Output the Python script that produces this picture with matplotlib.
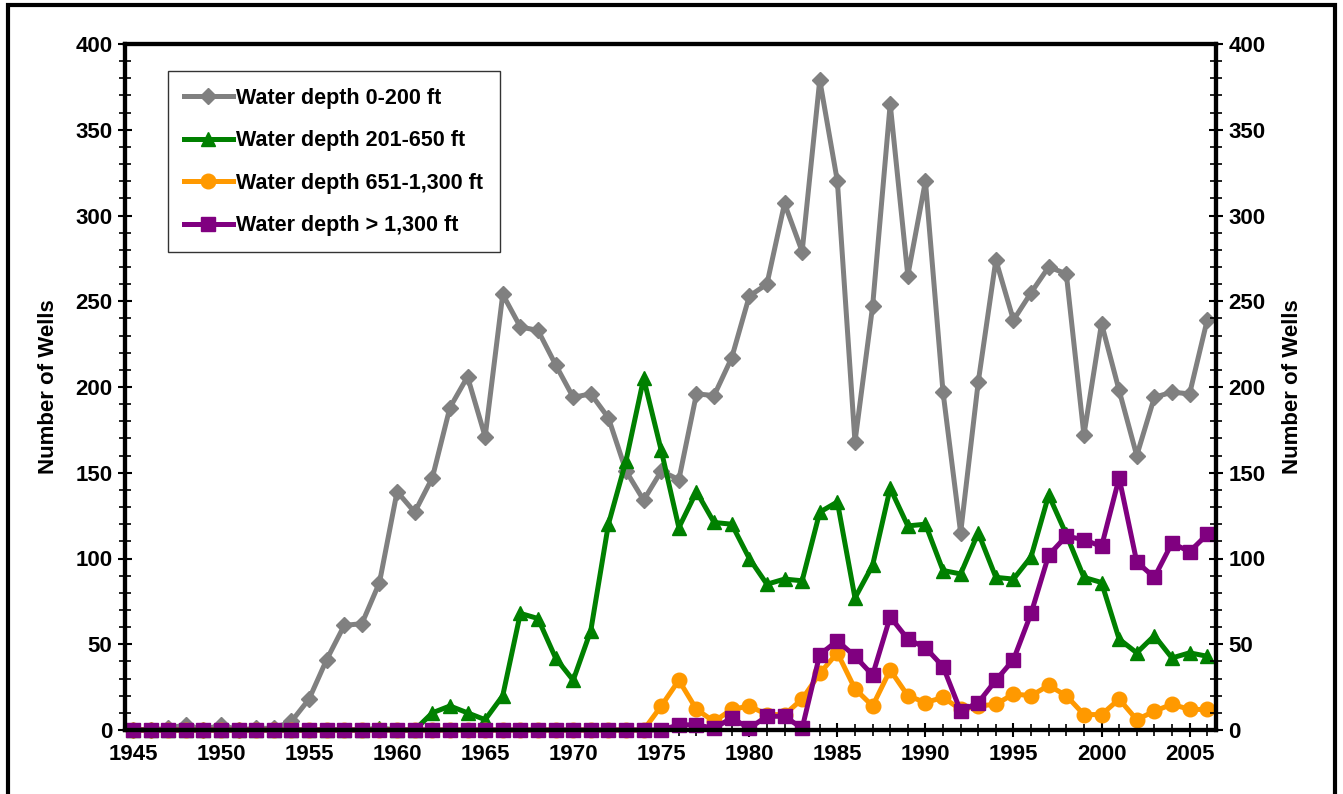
import matplotlib
matplotlib.use("Agg")
import matplotlib.pyplot as plt
from matplotlib.ticker import MultipleLocator
from matplotlib.patches import Rectangle

years = list(range(1945, 2007))

depth_0_200 = [0, 0, 1, 3, 0, 3, 0, 1, 1, 5,
               18, 41, 61, 62, 86, 139, 127, 147, 188, 206,
               171, 254, 235, 233, 213, 194, 196, 182, 151, 134,
               151, 146, 196, 195, 217, 253, 260, 307, 279, 379,
               320, 168, 247, 365, 265, 320, 197, 115, 203, 274,
               239, 255, 270, 266, 172, 237, 198, 160, 194, 197,
               196, 239]

depth_201_650 = [0, 0, 0, 0, 0, 0, 0, 0, 0, 0,
                 0, 0, 0, 0, 1, 0, 0, 10, 14, 10,
                 6, 20, 68, 65, 42, 29, 58, 120, 157, 205,
                 163, 118, 139, 121, 120, 100, 85, 88, 87, 127,
                 133, 77, 96, 141, 119, 120, 93, 91, 115, 89,
                 88, 101, 137, 114, 89, 86, 53, 45, 55, 42,
                 45, 43]

depth_651_1300 = [0, 0, 0, 0, 0, 0, 0, 0, 0, 0,
                  0, 0, 0, 0, 0, 0, 0, 0, 0, 0,
                  0, 0, 0, 0, 0, 0, 0, 0, 0, 0,
                  14, 29, 12, 5, 12, 14, 9, 9, 18, 33,
                  45, 24, 14, 35, 20, 16, 19, 12, 14, 15,
                  21, 20, 26, 20, 9, 9, 18, 6, 11, 15,
                  12, 12]

depth_over_1300 = [0, 0, 0, 0, 0, 0, 0, 0, 0, 0,
                   0, 0, 0, 0, 0, 0, 0, 0, 0, 0,
                   0, 0, 0, 0, 0, 0, 0, 0, 0, 0,
                   0, 3, 3, 1, 7, 1, 8, 8, 1, 44,
                   52, 43, 32, 66, 53, 48, 37, 11, 16, 29,
                   41, 68, 102, 113, 111, 107, 147, 98, 89, 109,
                   104, 114]

labels = ["Water depth 0-200 ft", "Water depth 201-650 ft",
          "Water depth 651-1,300 ft", "Water depth > 1,300 ft"]
colors = ["#808080", "#008000", "#FF9900", "#800080"]
markers = ["D", "^", "o", "s"]
msizes = [8.5, 10.5, 10.5, 9.5]

plt.rcParams['font.family'] = ['Liberation Sans', 'DejaVu Sans']
plt.rcParams['font.weight'] = 'bold'

fig = plt.figure(figsize=(13.43, 7.94), dpi=100)
W, H = 1343, 794
ax = fig.add_axes([125 / W, 1 - 730 / H, (1216 - 125) / W, (730 - 44) / H])

series = [depth_0_200, depth_201_650, depth_651_1300, depth_over_1300]
for s, lab, c, m, ms in zip(series, labels, colors, markers, msizes):
    ax.plot(years, s, color=c, marker=m, markersize=ms, linewidth=3.6,
            label=lab, markeredgecolor=c, clip_on=False)

ax.set_xlim(1944.55, 2006.5)
ax.set_ylim(0, 400)
ax.xaxis.set_major_locator(MultipleLocator(5))
ax.xaxis.set_minor_locator(MultipleLocator(1))
ax.yaxis.set_major_locator(MultipleLocator(50))
ax.yaxis.set_minor_locator(MultipleLocator(10))

for sp in ax.spines.values():
    sp.set_linewidth(3)

FS = 16
ax.tick_params(axis='both', which='major', direction='inout', length=10, width=1.5,
               labelsize=FS)
ax.tick_params(axis='both', which='minor', direction='inout', length=8, width=1.2)
ax.tick_params(axis='x', which='major', pad=5)
ax.tick_params(axis='y', which='major', pad=4)
for t in ax.get_xticklabels() + ax.get_yticklabels():
    t.set_fontweight('bold')

ax.set_ylabel("Number of Wells", fontsize=FS, fontweight='bold', labelpad=12)

ax2 = ax.twinx()
ax2.set_ylim(0, 400)
ax2.yaxis.set_major_locator(MultipleLocator(50))
ax2.yaxis.set_minor_locator(MultipleLocator(10))
ax2.tick_params(axis='y', which='major', direction='inout', length=10, width=1.5,
                labelsize=FS, pad=4)
ax2.tick_params(axis='y', which='minor', direction='inout', length=8, width=1.2)
for sp in ax2.spines.values():
    sp.set_linewidth(3)
for t in ax2.get_yticklabels():
    t.set_fontweight('bold')
ax2.set_ylabel("Number of Wells", fontsize=FS, fontweight='bold', labelpad=12,
               rotation=90)

leg = ax.legend(loc='upper left', bbox_to_anchor=(0.039, 0.96), borderaxespad=0,
                frameon=True, fancybox=False, fontsize=15.5, handlelength=2.3,
                labelspacing=1.0, borderpad=0.75, handletextpad=0.15)
leg.get_frame().set_edgecolor('black')
leg.get_frame().set_linewidth(1.0)
for t in leg.get_texts():
    t.set_fontweight('bold')

fig.patches.append(Rectangle((8 / W, -0.05), (1335 - 8) / W, 1.05 - 5 / H,
                             transform=fig.transFigure, fill=False,
                             edgecolor='black', linewidth=3))

fig.savefig("out.png", dpi=100)
